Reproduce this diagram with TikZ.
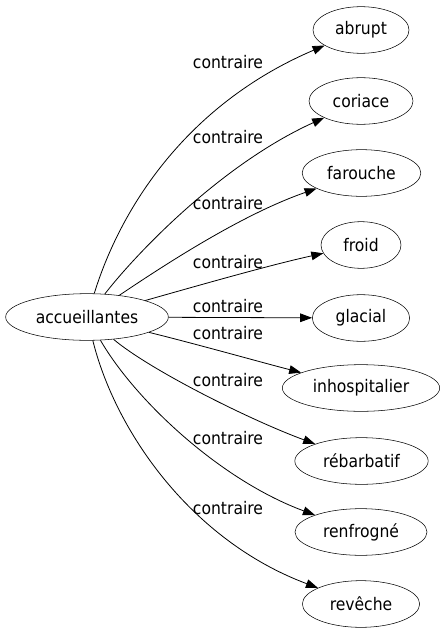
\documentclass[tikz,border=0pt]{standalone}
\usepackage{fontspec}
\setmainfont{DejaVu Sans Condensed}
\usetikzlibrary{shapes.geometric,arrows.meta}
\begin{document}
\begin{tikzpicture}[x=0.75pt,y=-0.75pt,
  word/.style={draw,ellipse,inner sep=0pt,minimum height=35pt,font=\fontsize{13}{15}\selectfont},
  lbl/.style={inner sep=0pt,font=\fontsize{13}{15}\selectfont},
  rel/.style={draw,line width=0.6pt,-{Triangle[length=9pt,width=6.5pt]}}]
\useasboundingbox (0,0) rectangle (446,635);
\node[word,minimum width=122pt] (acc) at (87,317) {accueillantes};
\node[word,minimum width=72pt] (abrupt) at (361,30) {abrupt};
\node[word,minimum width=78pt] (coriace) at (361,101) {coriace};
\node[word,minimum width=89pt] (farouche) at (361.5,173) {farouche};
\node[word,minimum width=60pt] (froid) at (361,245) {froid};
\node[word,minimum width=73pt] (glacial) at (361,318) {glacial};
\node[word,minimum width=118pt] (inhosp) at (361,388) {inhospitalier};
\node[word,minimum width=100pt] (rebar) at (361.5,461) {rébarbatif};
\node[word,minimum width=99pt] (renfr) at (361,532) {renfrogné};
\node[word,minimum width=88pt] (reveche) at (361,604) {revêche};
\draw[rel] (acc) .. controls (120,210) and (185,105) .. (abrupt);
\draw[rel] (acc) .. controls (135,255) and (220,165) .. (coriace);
\draw[rel] (acc) .. controls (160,268) and (240,215) .. (farouche);
\draw[rel] (acc) .. controls (200,285) and (270,265) .. (froid);
\draw[rel] (acc) -- (glacial);
\draw[rel] (acc) .. controls (200,345) and (260,362) .. (inhosp);
\draw[rel] (acc) .. controls (150,370) and (250,420) .. (rebar);
\draw[rel] (acc) .. controls (135,400) and (220,480) .. (renfr);
\draw[rel] (acc) .. controls (115,430) and (190,540) .. (reveche);
\node[lbl] (l1) at (228,62) {contraire};
\node[lbl] (l2) at (228,137) {contraire};
\node[lbl] (l3) at (228,203) {contraire};
\node[lbl] (l4) at (228,262) {contraire};
\node[lbl] (l5) at (228,306) {contraire};
\node[lbl] (l6) at (228,333) {contraire};
\node[lbl] (l7) at (228,380) {contraire};
\node[lbl] (l8) at (228,438) {contraire};
\node[lbl] (l9) at (228,508) {contraire};
\end{tikzpicture}
\end{document}
